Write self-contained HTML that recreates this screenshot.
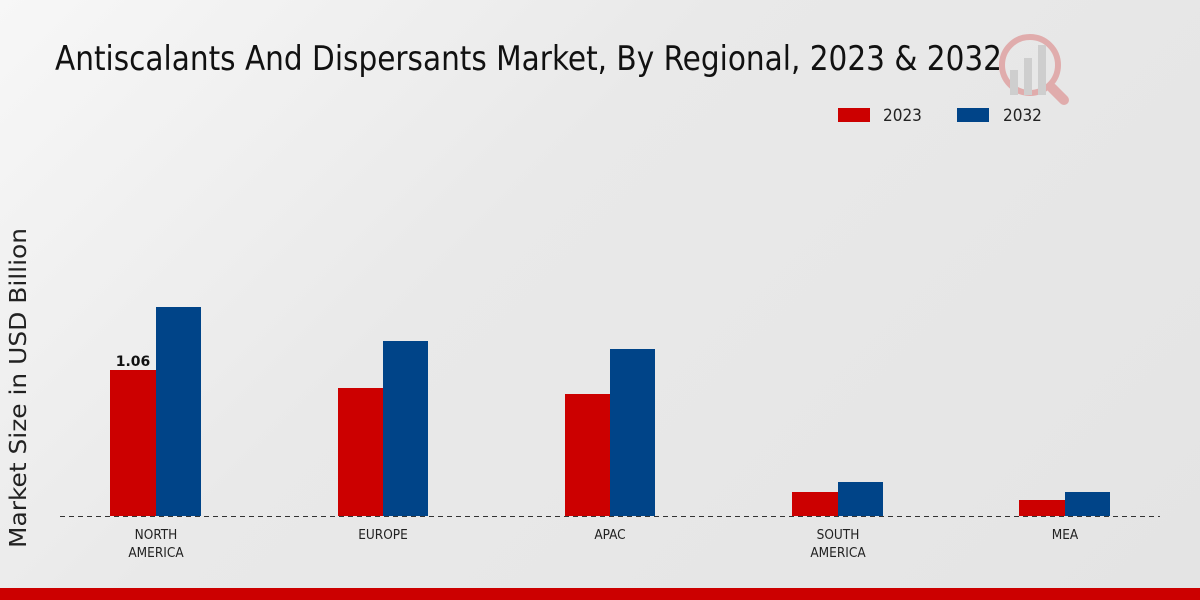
<!DOCTYPE html>
<html><head><meta charset="utf-8"><style>
html,body{margin:0;padding:0;}
body{width:1200px;height:600px;overflow:hidden;background:linear-gradient(135deg,#f7f7f7 0%,#e9e9e9 40%,#e4e4e4 100%);font-family:"DejaVu Sans","Liberation Sans",sans-serif;}
</style></head><body>
<svg width="1200" height="600" xmlns="http://www.w3.org/2000/svg" style="position:absolute;left:0;top:0">
<text x="55" y="70" font-family="DejaVu Sans Condensed, DejaVu Sans, sans-serif" font-size="34" fill="#111" textLength="947" lengthAdjust="spacingAndGlyphs">Antiscalants And Dispersants Market, By Regional, 2023 &amp; 2032</text>
<g opacity="0.25">
<circle cx="1030" cy="65" r="28" fill="none" stroke="#c00" stroke-width="6"/>
<line x1="1052" y1="88" x2="1064" y2="100" stroke="#c00" stroke-width="10" stroke-linecap="round"/>
<rect x="1010" y="70" width="8" height="25" fill="#888"/><rect x="1024" y="58" width="8" height="37" fill="#888"/><rect x="1038" y="45" width="8" height="50" fill="#888"/>
</g>
<rect x="838" y="108" width="32" height="14" fill="#cc0000"/>
<text x="883" y="121" font-size="17" fill="#222" font-family="DejaVu Sans Condensed, DejaVu Sans, sans-serif">2023</text>
<rect x="957" y="108" width="32" height="14" fill="#004488"/>
<text x="1003" y="121" font-size="17" fill="#222" font-family="DejaVu Sans Condensed, DejaVu Sans, sans-serif">2032</text>
<text transform="translate(26,388) rotate(-90)" text-anchor="middle" font-size="23" fill="#222" textLength="320" lengthAdjust="spacingAndGlyphs">Market Size in USD Billion</text>
<g fill="#cc0000">
<rect x="110" y="370" width="46" height="146"/>
<rect x="338" y="388" width="45" height="128"/>
<rect x="565" y="394" width="45" height="122"/>
<rect x="792" y="492" width="46" height="24"/>
<rect x="1019" y="500" width="46" height="16"/>
</g>
<g fill="#004488">
<rect x="156" y="307" width="45" height="209"/>
<rect x="383" y="341" width="45" height="175"/>
<rect x="610" y="349" width="45" height="167"/>
<rect x="838" y="482" width="45" height="34"/>
<rect x="1065" y="492" width="45" height="24"/>
</g>
<text x="133" y="366" text-anchor="middle" font-size="14" font-weight="bold" fill="#111">1.06</text>
<line x1="60" y1="516.5" x2="1160" y2="516.5" stroke="#333" stroke-width="1" stroke-dasharray="5,4"/>
<g font-size="13.5" fill="#222" text-anchor="middle" font-family="DejaVu Sans Condensed, DejaVu Sans, sans-serif">
<text x="156" y="539">NORTH</text><text x="156" y="557">AMERICA</text>
<text x="383" y="539">EUROPE</text>
<text x="610" y="539">APAC</text>
<text x="838" y="539">SOUTH</text><text x="838" y="557">AMERICA</text>
<text x="1065" y="539">MEA</text>
</g>
<rect x="0" y="588" width="1200" height="12" fill="#cc0000"/>
</svg>
</body></html>
